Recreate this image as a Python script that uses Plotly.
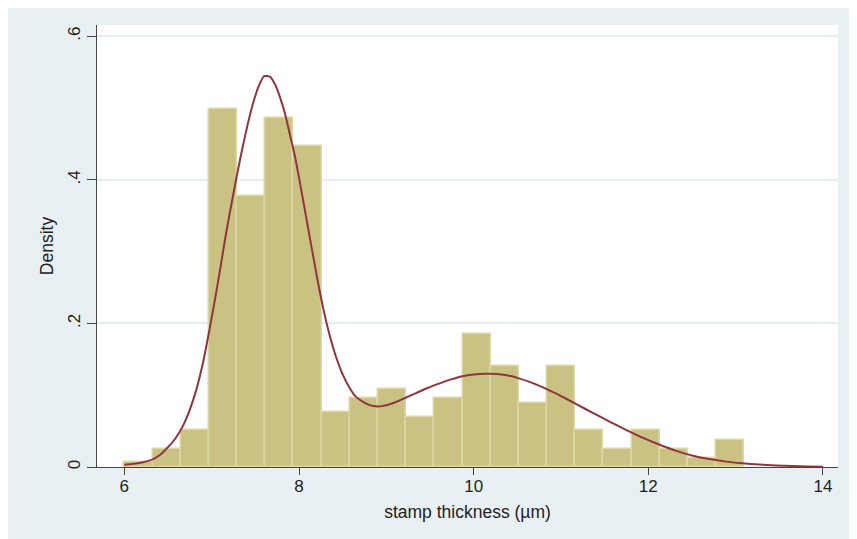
import plotly.graph_objects as go

# ---- data ----
bin_start = 6.0
bin_width = 0.32273
density = [0.0064, 0.0256, 0.0511, 0.4983, 0.3770, 0.4856, 0.4472, 0.0767,
           0.0958, 0.1086, 0.0703, 0.0958, 0.1853, 0.1406, 0.0894, 0.1406,
           0.0511, 0.0256, 0.0511, 0.0256, 0.0128, 0.0383]

kde_x = [6.00, 6.17, 6.31, 6.40, 6.48, 6.58, 6.67, 6.75, 6.82, 6.90, 6.97,
         7.03, 7.09, 7.16, 7.24, 7.30, 7.35, 7.41, 7.47, 7.54, 7.60, 7.67,
         7.73, 7.78, 7.84, 7.89, 7.95, 8.00, 8.06, 8.12, 8.18, 8.23, 8.29,
         8.35, 8.42, 8.50, 8.58, 8.65, 8.73, 8.80, 8.88, 8.95, 9.03, 9.11,
         9.22, 9.34, 9.47, 9.61, 9.74, 9.87, 10.00, 10.14, 10.27, 10.41,
         10.52, 10.64, 10.80, 10.98, 11.17, 11.37, 11.56, 11.75, 11.94,
         12.13, 12.32, 12.51, 12.70, 12.89, 13.08, 13.27, 13.46, 13.65,
         13.83, 14.00]
kde_y = [0.003, 0.0056, 0.010, 0.016, 0.025, 0.039, 0.057, 0.080, 0.106,
         0.145, 0.188, 0.228, 0.270, 0.322, 0.375, 0.413, 0.443, 0.476,
         0.505, 0.531, 0.5445, 0.5435, 0.532, 0.516, 0.492, 0.466, 0.435,
         0.403, 0.363, 0.322, 0.282, 0.249, 0.214, 0.184, 0.155, 0.129,
         0.110, 0.098, 0.091, 0.0865, 0.0845, 0.0848, 0.0870, 0.0905,
         0.0965, 0.1030, 0.1100, 0.1165, 0.1220, 0.1265, 0.1290, 0.1300,
         0.1295, 0.1270, 0.1235, 0.1185, 0.1105, 0.1000, 0.0880, 0.0750,
         0.0630, 0.0515, 0.0405, 0.0310, 0.0225, 0.0158, 0.0110, 0.0075,
         0.0052, 0.0035, 0.0022, 0.0014, 0.0008, 0.0005]

x_ticks = [6, 8, 10, 12, 14]
y_ticks = [0, 0.2, 0.4, 0.6]
y_ticktext = ["0", ".2", ".4", ".6"]

centers = [bin_start + (i + 0.5) * bin_width for i in range(len(density))]

FONT = "Liberation Sans, Arial, Helvetica, sans-serif"
BG = "#e9f0f3"

fig = go.Figure()
fig.add_trace(go.Bar(
    x=centers, y=density, width=[bin_width] * len(density),
    marker=dict(color="#c9c283", line=dict(color="#dcd8a6", width=1.5)),
    showlegend=False, hoverinfo="x+y",
))
fig.add_trace(go.Scatter(
    x=kde_x, y=kde_y, mode="lines",
    line=dict(color="#90353b", width=2, shape="spline", smoothing=0.5),
    showlegend=False,
))

# page body has an 8px margin: figure origin sits at window (8, 8)
fig.update_layout(
    width=857, height=539, autosize=False,
    margin=dict(l=89, r=27.3, t=17, b=79.7, pad=0),
    paper_bgcolor=BG, plot_bgcolor="white",
    font=dict(family=FONT, size=17, color="#222222"),
    bargap=0,
    xaxis=dict(
        range=[5.687, 14.172], tickvals=x_ticks, ticktext=[str(v) for v in x_ticks],
        showgrid=False, zeroline=False,
        showline=True, linecolor="#444444", linewidth=1.3,
        ticks="outside", ticklen=7, tickwidth=1.3, tickcolor="#444444",
        tickfont=dict(size=17), ticklabelstandoff=-4,
        title=dict(text="stamp thickness (µm)", font=dict(size=17.5), standoff=11),
    ),
    yaxis=dict(
        range=[0, 0.6157], tickvals=y_ticks, ticktext=y_ticktext,
        tickangle=-90,
        showgrid=True, gridcolor="#e6edf1", gridwidth=1.5, zeroline=False,
        showline=True, linecolor="#444444", linewidth=1.3,
        ticks="outside", ticklen=9, tickwidth=1.3, tickcolor="#444444",
        tickfont=dict(size=17), ticklabelstandoff=0,
        title=dict(text="Density", font=dict(size=17.5), standoff=6),
    ),
)

fig.write_html("out.html")
